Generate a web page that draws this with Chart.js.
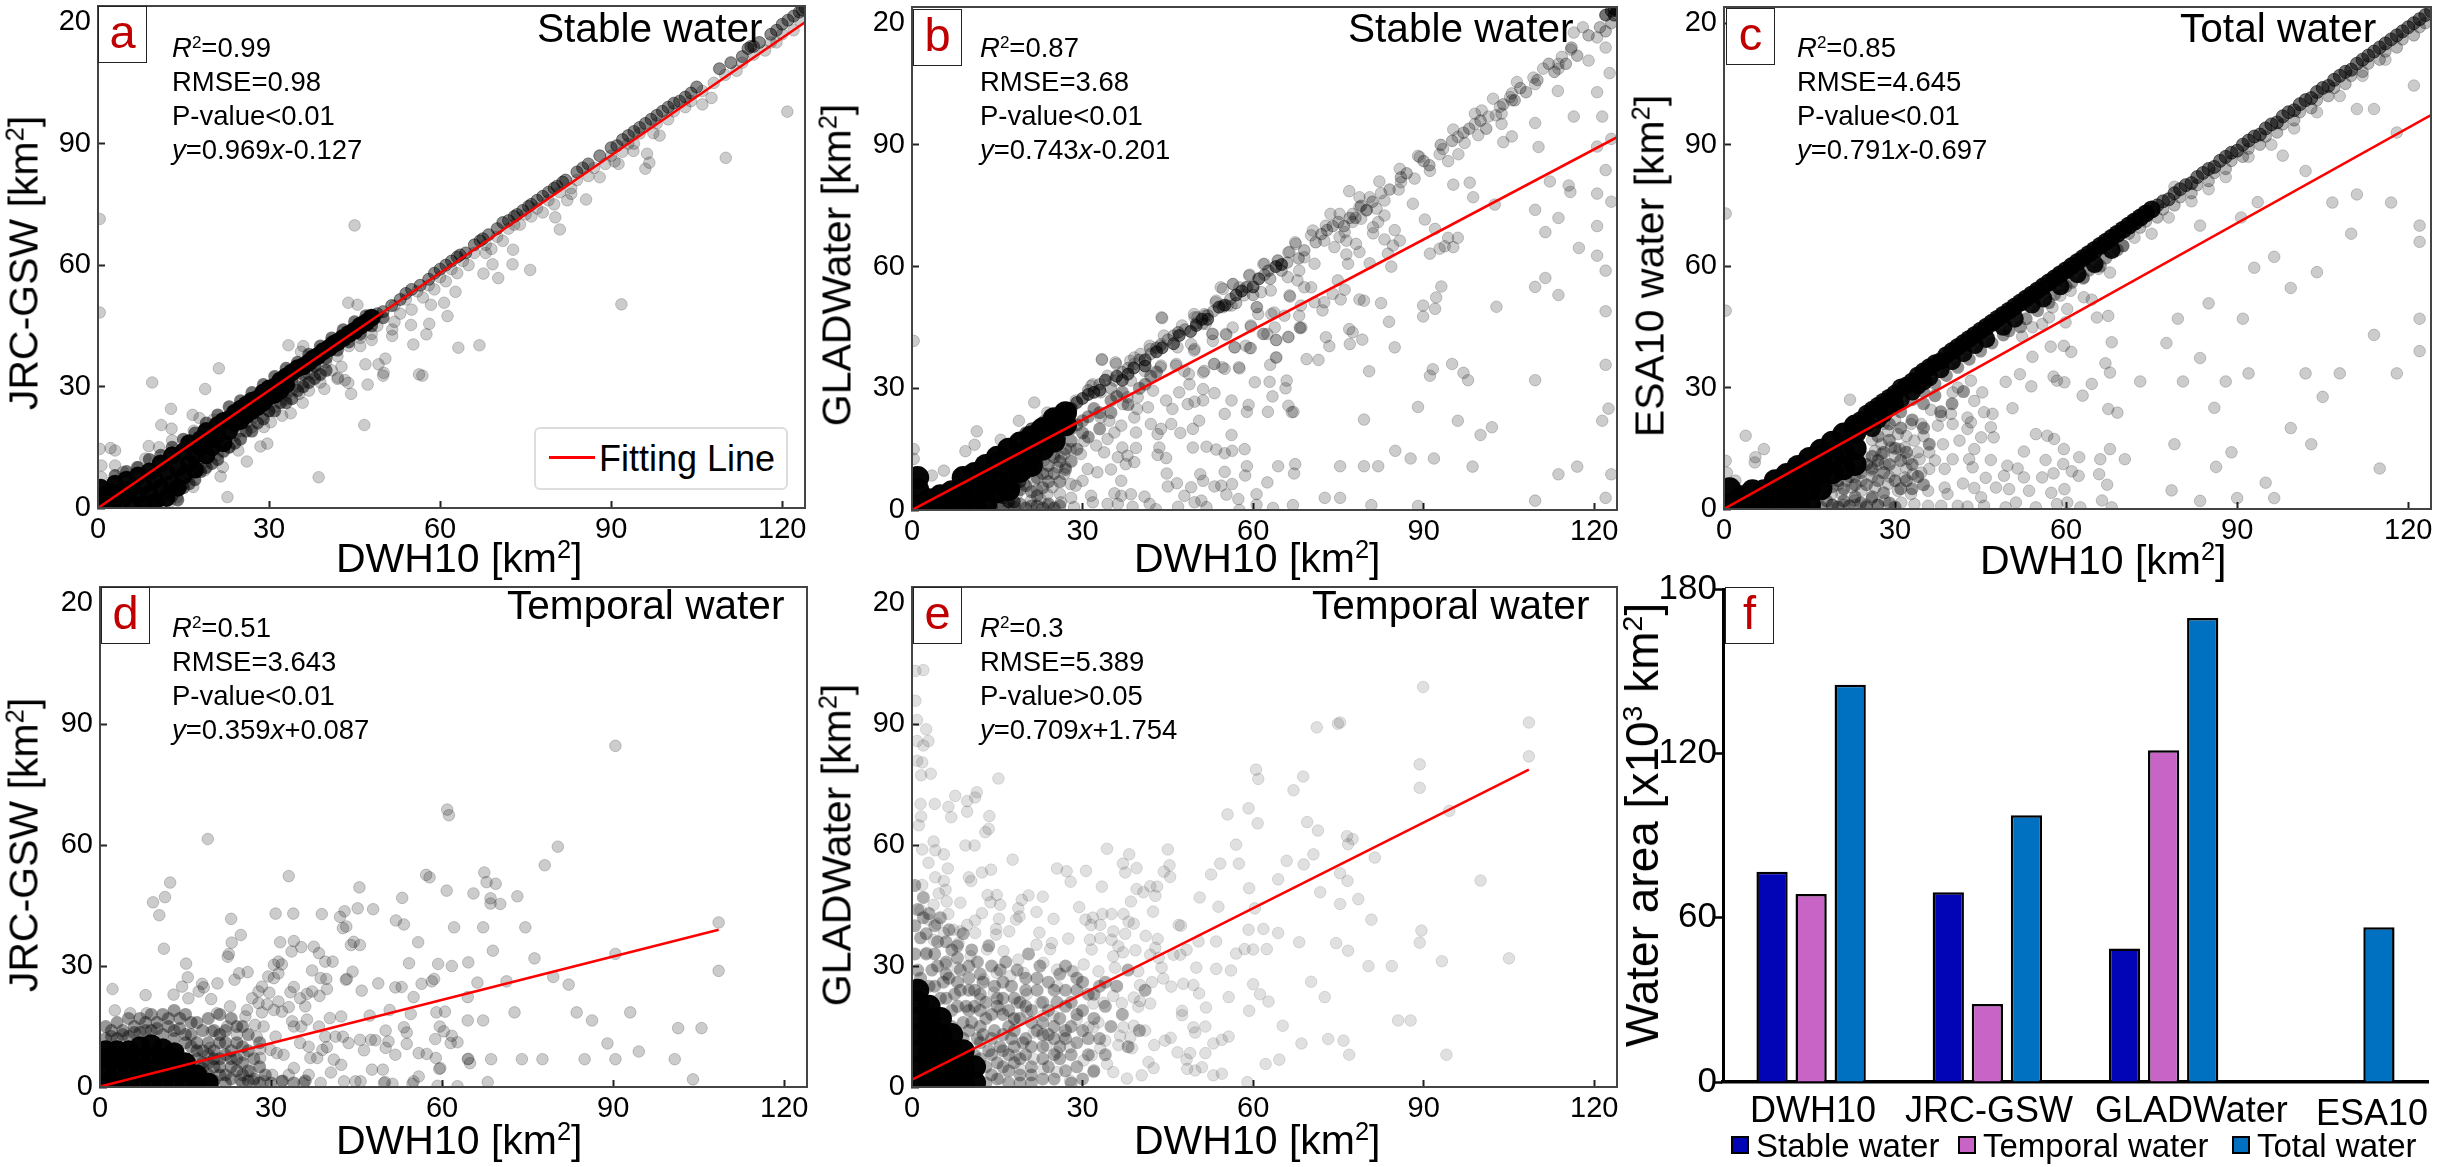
<!DOCTYPE html>
<html>
<head>
<meta charset="utf-8">
<title>Water area comparison</title>
<script src="https://cdn.jsdelivr.net/npm/chart.js@4"></script>
<style>
html, body { margin: 0; padding: 0; background: #fff; }
#page { position: relative; width: 2441px; height: 1167px; overflow: hidden; font-family: "Liberation Sans", Arial, sans-serif; color: #000; }
.plot { position: absolute; }
.txt { position: absolute; white-space: nowrap; transform: translateY(-50%); line-height: 1; z-index: 5; }
.rot { position: absolute; white-space: nowrap; transform: translate(-50%, -50%) rotate(-90deg); line-height: 1; z-index: 5; }
.up { font-size: .62em; position: relative; top: -.55em; line-height: 0; }
.letter { position: absolute; background: #fff; border: 1.5px solid #222; box-sizing: border-box; color: #c00000; font-size: 47px; text-align: center; line-height: 50px; z-index: 6; }
.swatch { position: absolute; width: 18px; height: 18px; border: 2px solid #000; box-sizing: border-box; z-index: 5; }
#fitLegend { position: absolute; left: 534px; top: 427px; width: 254px; height: 63px; box-sizing: border-box; border: 2px solid #ddd; border-radius: 6px; background: #fff; z-index: 5; }
#fitLegend i { position: absolute; left: 13px; top: 27px; width: 46px; height: 2.5px; background: #ff0000; }
#fitLegend span { position: absolute; left: 63px; top: 12px; font-size: 36px; line-height: 1; }
</style>
</head>
<body>
<div id="page"></div>
<script>
// ===== tick labels and bar values =====
const scatterTicks = [0, 30, 60, 90, 120];
const barTicks = [0, 60, 120, 180];
const categories = ['DWH10', 'JRC-GSW', 'GLADWater', 'ESA10'];
const stableWater = [76.8, 69.3, 48.7, null];
const temporalWater = [68.6, 28.5, 121.1, null];
const totalWater = [145, 97.4, 169.4, 56.5];

// ===== fitted lines, end points =====
const fitA = [[0, 0], [124, 120]];
const fitB = [[0, 0], [124, 91.9]];
const fitC = [[0, 0], [124, 97.3]];
const fitD = [[0, 0.1], [108.5, 39]];
const fitE = [[0, 1.8], [108.5, 78.7]];

// ===== panel a =====
const aCore = [[.5,1],[1,3],[.5,5],[2,1],[2,4],[3,2],[3,6],[4,1],[4,4],[5,3],[5,7],[6,1],[6,5],[7,3],[7,8],[8,1],[8,5.5],[9,3.5],[9,9],[10,1.5],[10,7],[11,5],[11,11],[12,2.5],[12,9],[13,6],[13,13],[14,10],[14,5],[15,14],[15,8],[16,11],[16,16],[17,13],[17,9.5],[18,17],[18,15],[19,13],[19,19],[20,17],[20,15],[21,20.5],[21,18],[22,16],[22,21.5],[23,22],[23,19],[24,23.5],[24,21],[25,24.5],[25,21.5],[26,25.5],[26,23],[27,26.5],[27,24],[28,27],[28,25],[29,28.5],[29,26],[30,29.5],[30,27.5],[31,30],[31,28],[32,31.5],[32,29],[33,32.5],[33,30.5],[34,33.5],[35,34.5],[36,35],[37,36],[37.8,37],[38.5,37.5],[39.5,38.7],[40.5,39.5],[41.3,40.5],[42,41],[43,42],[44,43],[45,43.8],[46,45],[47,45.8],[48,47]];
const aHalo = [[8,.5],[10,1],[11,2],[12,4],[13,3],[14,2],[15,5],[16,6],[17,7],[18,9],[19,10],[20,11],[21,12],[22,14],[23,15],[24,16],[25,17],[26,19],[27,19],[28,21],[29,22],[30,24],[31,24],[32,26],[33,26],[34,27],[35,29],[36,30],[37,31],[38,32],[39,33],[40,34],[3,8],[5,9],[7,10],[9,12],[11,13],[13,15],[15,17],[17,18.5],[19,21],[21,23],[23,25],[25,26.5],[27,28.5],[29,30.5],[31,32.5],[33,34.5],[35,36],[37,38],[39,40],[41,42],[43,44],[45,46],[47,47.5],[34,31.5],[36,33],[38,35],[40,37],[42,39],[44,41],[46,43],[48,45],[50,47]];
const aBand = [[49,48],[50,48.5],[51.5,50],[53,51.5],[54,53],[55,54],[56.5,55],[58,56.5],[59,58],[60,59],[61,60],[62,61],[63,62],[63.5,62.5],[64.5,63],[66,65],[67,66],[67.5,66.5],[68.5,67.5],[70,69],[71,70.5],[72,71],[73,72],[73.5,72.5],[74.5,73.5],[75.5,74.5],[76,75],[77,76],[78,77],[79,78],[80,79],[80.5,79.5],[81.5,80.5],[82,81],[84,83],[85,84],[86,85],[88,87],[90,89],[91,89.5],[92,91],[93,92],[94,93],[95,94],[96,95],[97,96],[98,97],[99,98],[100,99],[101,100],[102,100.5],[103,101.5],[104,102.5],[105,104],[109,108.5],[111,110],[113,111.5],[114,113.5],[114.5,114],[115,114],[116,115],[118,117],[119,118],[120,119.5],[121,120.5],[122,121.5],[123,122.5],[123.5,123],[124,123.5]];
const aSparse = [[.3,71.4],[.3,48.3],[45,69.8],[43.9,50.7],[45.5,50.2],[33.4,40.2],[36,40],[35.6,38.6],[21.2,34.5],[9.5,31],[55.3,40.4],[57.6,42.9],[63.2,39.6],[66.9,40.2],[58.1,45.5],[54.9,45.2],[61.3,47.4],[60.7,50.7],[58.4,50.2],[62.7,53.4],[67.6,57.9],[70.2,56.8],[72.7,60.2],[72.8,63.8],[69.2,60.2],[56.3,33],[51.6,42.5],[50.4,36.9],[49.2,35.5],[50.1,33.4],[46.9,35.5],[42.7,34.9],[42.1,32.2],[43.3,31.6],[51.6,44.1],[48,41.5],[46,42],[44,40],[42,37.5],[40,36],[38,35],[37,33],[41,34],[120.9,97.9],[110.1,86.5],[91.8,50.3],[75.8,58.8],[81,68.8],[80.2,71.8],[85.6,76.2],[82.3,76],[83,77.6],[88,81.7],[96,83.8],[96.7,85.3],[96.3,87.5],[93.9,88.2],[91.3,85],[90.6,85.6],[98.5,92],[97.4,92.6],[106,99.7],[107.6,101.3],[38.7,7.6],[22.7,2.7],[46.7,20.5],[16.7,5.2],[13.9,2.7],[12.6,1.5],[13.5,4.8],[21.5,7.8],[18.7,9.3],[17.8,9.3],[21.9,10.1],[26.1,11.5],[24.6,14.2],[28.5,15.2],[29.7,15.9],[27,20],[29.1,20],[30.3,21.2],[32.3,22.8],[33.8,23.4],[35.9,26],[35.3,28.2],[32.9,26.8],[44.4,28.2],[47.3,30.5],[39.7,29.4],[43.9,30.9],[56.9,32.7],[50,32.7],[42,31.9],[12.8,24.5],[18.8,29.4],[11.1,20.5],[12.9,19.6],[13,16.7],[16.6,23],[17.8,22.2],[16.8,19.1],[20.2,21.8],[2.2,14.8],[3,14.2],[.3,14.6],[8.9,15.3],[10.7,15],[3,10.5],[.6,10.5],[4.4,8.9],[8.3,12.2],[6.8,10.1],[.6,7.6],[24,18],[25,19],[26,21],[27,22],[23,15],[21,13],[19,11.5],[18,12],[16,8],[15,6],[29,23],[30,24],[31,25],[33,28],[34,29],[36,31],[38,33],[39,31],[35,30],[37,29],[46,40],[48,43],[49,45],[52,46],[53,48],[55,49],[57,52],[59,54],[61,56],[63,58],[65,60],[68,63],[69,64],[71,66],[74,70],[76,72],[78,73],[80,75],[83,79],[86,82],[89,85],[92,88],[94,90],[100,96],[103,99],[112,108],[117,113],[119,115],[122,118],[52,50],[54,51.5],[56,53.5],[58,55],[60,57],[62,59],[64,61],[66,63],[68,65],[70,67],[72,69],[73,70],[75,72.5],[77,74],[79,76],[81,78],[84,81],[87,84],[90,87],[93,90],[95,92.5],[98,95],[101,98],[104,100.5],[106,103],[108,105],[110,107],[113,110],[115,112],[118,115],[120,117],[123,120.5]];

// ===== panel b =====
const bCore = [[1,1],[1,5],[1,8],[3,1],[3,2.5],[5,1],[5,3.5],[7,1],[7,4.5],[9,1.5],[9,5],[9,8],[11,1],[11,4.5],[11,9],[13,1.5],[13,5],[13,8.5],[13,11],[15,4.5],[15,8],[15,11.5],[15,13],[17,5],[17,9],[17,12.5],[17,15],[19,9.5],[19,12],[19,13.5],[19,16.5],[21,11],[21,14],[21,16],[21,18],[23,15],[23,18],[23,20],[25,17],[25,20],[25,22.5],[27,21],[27,24]];
const bHalo = [[14,.5],[15,1.5],[16,1],[17,.5],[18,.8],[19,1.5],[20,.5],[21,1],[22,1],[23,.5],[24,1.5],[25,.5],[26,1],[16,5],[17,6.5],[18,8],[19,5],[20,6],[21,4.5],[22,3.5],[23,5.5],[24,7],[25,9],[26,7],[27,10],[28,12],[23,9],[24,11],[22,8],[26,12],[25,13],[27,15],[28,17],[29,15],[28,20],[29,21],[30,19],[30,22],[31,23],[32,25],[33,24],[31,18],[33,20],[35,24],[35,27],[36,28],[37,29],[38,26],[40,30],[41,31],[42,33],[43,34]];
const bBand = [[20,19],[21,20],[22,20.5],[22,18],[23,21.5],[23,19],[24,22],[24,19.5],[25,23],[25,20],[26,24],[26,21],[27,24.5],[27,22],[20,13],[21,14],[22,15],[23,16],[24,15],[25,17],[26,18],[16,3],[17,5],[18,6],[19,7],[20,9],[21,10],[22,12],[17,2],[18,2],[28,25],[29,26.5],[30,27.5],[31,28.5],[32,29],[33,29.5],[34,32],[36,33],[37,32],[38,33.5],[39,35],[41,35.5],[41,37],[43,39],[44,40],[46,41],[47,43],[49,44],[50,45.5],[51,47],[52,47],[54,50],[55,50.5],[57,53],[58,54],[60,55],[61,57],[64,60],[65,60.5],[122,122],[123,123],[123.5,123.5],[124,123],[123.5,122]];
const bMid = [[31,29.5],[33,31],[35,30],[37,34],[38,35],[40,37],[42,38.5],[43,40],[45,42],[46,43],[48,44.5],[50,46],[52,48],[53,49],[56,52],[57,51],[59,55],[60,53],[62,58],[63,57],[65,59],[66,61],[68,62],[69,64],[71,66],[72,68],[73,69],[74,70],[75,71],[76,70],[77,72],[78,72],[79,75],[80,74],[81,76],[84,79],[86,82],[87,83],[90,86],[91,85],[93,90],[95,91],[97,93],[98,94],[100,96],[101,94],[104,100],[106,101],[107,104],[108,103],[110,106],[112,110],[113,108],[115,110],[116,114],[117,112],[119,117],[121,119],[122,118],[123,120]];
const bSparse = [[67.4,66],[66.2,63.5],[64.4,61.5],[62.6,59],[61.8,60.6],[59.4,58],[57.6,54.9],[54.7,54.5],[56.5,55.7],[53.5,51.6],[54.7,50],[56.2,50.4],[44,47.3],[51.5,47.9],[49.7,47.5],[46.8,43.8],[43.8,40.9],[41.8,40.5],[39.1,37.6],[35.9,36],[33.4,37],[31.8,31],[33.2,29],[28.8,27],[21.5,26.5],[23.8,24],[18.8,22],[25.6,22.8],[23.2,22],[11.4,19.4],[11,16.1],[9.4,14.5],[15.6,17.3],[.3,41.7],[.3,15],[.3,12.6],[5.6,9.7],[3.5,8.5],[66.5,52.6],[63.2,48.3],[60.6,50],[60.9,48.3],[59.6,45.2],[63.8,45],[66.2,42.7],[61.9,43.4],[64.1,41.9],[68.2,45],[64.1,37.6],[57.6,34.9],[59.6,39.9],[56.8,40.1],[55.3,43.2],[52.9,43.4],[51.2,33.9],[53.2,36],[55,34.8],[60.3,31.5],[62.9,31.6],[65.9,31.9],[65.7,30],[63.4,28],[59.2,25.9],[62.6,24.2],[66.2,25.7],[66.8,24.1],[56.2,27],[53.2,28.8],[51.2,29.8],[48.8,31],[51.2,27],[48.5,26.1],[49.7,26.7],[55,23.7],[50.5,22],[49.4,20],[47,29],[45.8,24.9],[44.7,27],[45.6,21.2],[47.2,19],[43.2,18.7],[49.4,15.4],[51.8,15.6],[53.5,14.9],[55,14],[56.3,14.6],[58.5,15],[43.5,15.4],[43.2,13.6],[44.7,12.8],[44.8,9],[45,5.8],[46.6,6.6],[49.1,5.6],[47.9,3.5],[51.2,7.2],[53.2,5.8],[54.4,6],[55,9.4],[56.3,6.4],[58.6,8.5],[55.3,3.8],[57.4,2.7],[60.6,3.9],[62.5,6.8],[60.6,1.3],[63.5,.5],[57.6,0],[67.4,11.3],[67.2,9],[46.8,.8],[49.7,1.9],[50.9,2.3],[51.8,.7],[35.6,4.1],[36.8,7.2],[38.5,3.9],[36.8,3.5],[40.9,3.3],[41.8,1.5],[34.4,1.5],[36.2,1.5],[38.8,.8],[42.9,.2],[31.5,3.5],[31.8,1.9],[28.5,.7],[39.1,11.8],[37.6,11.3],[35,10],[33.8,14.2],[36.2,13],[37,15.4],[39.4,15.3],[37.9,13.4],[30.9,10.1],[32.6,9.3],[30,7.2],[28.8,6],[26.8,8.9],[27,10.5],[26.2,13],[27.9,15],[29.7,13.8],[30.3,17],[32.4,15.9],[34.4,17.5],[36.8,20.8],[35.6,19.1],[34.7,22],[33.2,22.8],[39.1,22.8],[39.6,24.9],[41.5,25.3],[42,21.2],[43.8,20],[39.4,19.1],[37.1,26.1],[42.4,29.4],[39.7,27.8],[37.9,27.8],[35.6,31.9],[38.5,31.9],[34.4,33.1],[31.5,30.6],[40.9,34.3],[43.8,35.6],[46.5,36],[47.9,34.3],[39.1,36],[49.7,39.7],[51.1,45.9],[49.1,40.9],[52.9,41.7],[23.8,8.9],[25.6,10.5],[23.2,12.2],[26.8,13.8],[25,13.8],[27.9,6.4],[24.7,5.6],[23.8,3.9],[26.2,1.9],[22.6,2.7],[20.9,2.3],[18.5,3.9],[17.4,4.8],[16.8,2.3],[19.7,6.4],[21.5,7.2],[22.1,10.5],[24,1],[22,5],[26,4],[28,3],[114.3,111.7],[113.7,110],[111,108.8],[109.3,106.6],[106.4,105.5],[105.5,102.7],[105.2,101.8],[102.2,101.4],[103.4,99.4],[103.7,97.7],[103.7,95.2],[100.2,98.5],[99,97.7],[99,95.2],[101.4,97],[99.6,92.4],[104,90.7],[105.5,92.1],[95.2,93.8],[96,92],[97.2,90.5],[93.4,89],[92.8,87.7],[94.3,86],[96.1,87.7],[89,87.3],[89.3,87],[91.1,83.6],[85.8,84.1],[88.4,81.7],[86,80.8],[85.6,79],[95.2,80.2],[98.1,80.7],[98.7,77.1],[88.1,75.5],[90.2,71.6],[92,69.3],[84.9,69],[85.8,66.4],[84.6,65.2],[83.1,66.7],[82.2,81],[82.5,78.1],[83.1,76.3],[76.9,78.6],[78.7,77.1],[80.5,77.1],[78.7,74.7],[79.9,73.8],[81.7,74.3],[83.1,72.6],[77.5,73],[77.5,71],[79,71.8],[82,71],[81.1,69.7],[81.1,68.2],[73.6,73],[75.2,73],[72.8,70.1],[70.5,68.9],[70.2,67.7],[72.5,66.4],[74.3,64.8],[76.1,68.5],[75.2,67.3],[76.4,66.4],[78.1,65.6],[78.7,63.6],[76.4,63],[76.7,60.7],[80.5,60.8],[83.7,63.2],[84.3,60],[91.1,63.2],[92.8,64.4],[93.7,65],[95.2,64.8],[94.3,67.1],[96,67.1],[102.5,75.3],[112.2,81],[111.4,68.5],[111.4,57.2],[102.8,50.1],[110.2,89.5],[113.6,103.3],[115.5,80],[115.8,78.4],[93.1,55.1],[92.2,52.4],[89.9,50.4],[92,49.6],[89.9,47.7],[82.5,51],[83.9,46.4],[78.7,51.9],[79.5,51.6],[74.9,56.6],[76.1,54.3],[74,53.3],[75.4,51.9],[72.5,51.2],[70.8,51.2],[72.2,49.2],[68.4,50.4],[68.1,47.9],[68.3,44.8],[68.5,45],[76.9,44.6],[77.5,43.8],[79.2,42],[77,40.9],[72.8,42.6],[73.4,40.4],[84.9,40.1],[95,36],[91.6,34.7],[91.1,33.1],[80.4,34.2],[71.5,37],[69.4,37.2],[64,37.6],[66.2,42.6],[64,41.9],[62.5,43.4],[61.7,43.4],[65.5,47.9],[63.7,48.7],[60.7,50],[59.6,45.5],[57.5,35.2],[59.4,39.9],[56.4,45],[54.3,54.9],[56.4,55.7],[58.7,54.9],[59.3,57.8],[62,60.7],[62.8,59],[64.3,61.5],[66.4,63.6],[67.5,65.6],[69,62.3],[70.8,60.7],[68.1,59],[66.1,57.4],[67.8,56.6],[69,54.9],[70.2,54.9],[66.4,52.9],[63.1,54.1],[61.4,53.7],[58.4,52.9],[54.6,50.4],[53.4,51.2],[55.5,50.4],[51.4,48.3],[49.6,48.3],[50.2,47.5],[51.7,45.9],[46.9,43.8],[43.7,40.5],[47.5,45.5],[43.9,47.5],[44.3,43],[49.6,39.3],[46.7,40.1],[52.8,43.4],[55.2,43.4],[56.7,40.1],[58.7,40.5],[53.1,36],[51.4,34.3],[54.6,35.2],[48.7,33.5],[43.7,35.2],[46.4,35.6],[33.4,37.2],[35.8,36.4],[38.4,36.8],[40.2,38.5],[41.9,39.7],[118,119],[116.4,117.7],[120.5,116.5],[122,114],[122.7,107.7],[120.5,103],[116.4,97],[121.4,97],[120.5,89.6],[123,91.5],[122,83.8],[123,76],[120.5,78],[109.6,74],[113.7,72],[109.6,55],[109.6,32],[122,59],[122,49],[122.5,25],[121.4,22],[117,10.7],[109.6,2.3],[122,3],[123,8.8],[102,20.4],[89,25.4],[89,1],[98.6,10.7],[96,22],[97,33.8],[91.8,12.7],[87.7,12.7],[82,10.8],[79.5,22.3],[75.3,10.8],[79.5,10.8],[67.1,24.2],[64.4,10.8],[58.9,10.8],[58.9,24.2],[56.2,18.5],[63,35.8],[50.7,8.8],[72.6,3],[75.3,3],[67,1.2],[80.8,1.2],[85,14.6],[97.8,32],[100,18.5],[113.7,8.8],[120.5,70],[122,35.8],[113.7,53],[117.3,64.6],[120.5,62.7],[113.7,108.8],[119,110.8],[109.6,105],[105.5,101],[109.6,95.4],[102.7,97.3],[115.9,113.5]];

// ===== panel c =====
const cCore = [[1,1],[1,5],[3,1],[3,3],[5,1],[5,4.5],[7,1],[7,4.5],[9,1],[9,5],[9,7],[11,1],[11,5],[11,8.5],[13,1],[13,5],[13,9],[13,10.5],[15,1],[15,5],[15,9],[15,12.5],[17,5],[17,9],[17,13],[17,14.5],[19,9],[19,13],[19,16.5],[21,10],[21,14],[21,18.5],[23,11],[23,15],[23,19],[23,20.5]];
const cHalo = [[17,.5],[18,2],[19,1],[20,.5],[21,2],[22,.8],[23,3],[24,1.5],[25,.5],[26,3],[27,1],[28,4],[29,1.5],[30,.5],[18,6],[19,5.5],[20,7],[21,5],[22,8],[23,6],[24,9],[25,6],[26,10],[27,7],[28,9],[25,11],[26,13],[27,12],[28,14],[29,11],[30,7],[31,5],[32,7],[33,5],[29,17],[30,15],[31,12],[32,14],[33,11],[34,8],[35,6],[27,18],[29,21],[31,20],[33,22],[35,26],[37,28],[35,20],[36,16],[38,24],[40,26],[42,29],[31,24],[33,27],[35,29],[37,31],[39,33],[41,35],[43,37],[45,39],[47,41],[49,43],[50,44],[52,45],[53,47],[55,49],[57,51],[58,53],[60,55],[61,56],[63,57],[64,59],[66,60],[67,62],[69,64],[70,65]];
const cBand = [[24,22],[25,23.5],[25,21],[26,24.5],[26,20],[27,25.5],[27,22],[28,26.5],[28,23.5],[29,27.5],[29,25],[30,28.5],[30,26],[31,30],[31,27],[32,30.5],[33,31.5],[33,29],[34,33],[34,30.5],[35,34],[35,31.5],[36,35],[36,32.5],[37,36],[38,36.5],[38,34.5],[39,38],[40,39],[40,36.5],[41,40],[42,41],[42,38.5],[43,42],[44,43],[44,40.5],[45,44],[46,45],[46,42],[47,46],[48,47],[49,48],[49,45],[50,49],[51,50],[51,47],[52,51],[53,52],[54,53],[54,50.5],[55,54],[56,55],[56,52],[57,56],[58,57],[59,58],[59,55],[60,59],[61,60],[62,61],[62,58],[63,62],[64,63],[65,64],[65,60.5],[66,65],[67,66],[68,67],[68,64],[69,68],[70,69],[71,70],[72,71],[73,72],[74,73],[75,74]];
const cBandHigh = [[76,75],[77,76],[78,76.5],[79,78],[80,79],[81,80],[82,80.5],[83,82],[84,83],[85,84],[86,84.5],[87,86],[88,87],[89,88],[90,88.5],[91,90],[92,91],[93,92],[94,92.5],[95,94],[96,95],[97,95.5],[98,97],[99,98],[100,98.5],[101,100],[102,101],[103,101.5],[104,103],[105,104],[106,104.5],[107,106],[108,107],[109,108],[110,108.5],[111,110],[112,111],[113,112],[114,113],[115,114],[116,115],[117,116],[118,117],[119,118],[120,119],[121,120],[122,121],[123,122],[124,123]];
const cLow = [[71,68],[73,69.5],[74,71],[76,72],[77,74],[79,75],[80,77],[82,78],[83,80],[85,81],[86,83],[88,84],[89,86],[91,87],[92,89],[94,90],[95,92],[97,93],[98,95],[100,96],[101,98],[103,99],[104,101],[106,102],[107,104],[109,105],[110,107],[112,108],[113,110],[115,111],[116,113],[118,114],[119,116],[121,117],[122,119],[123,120]];
const cSparse = [[3.8,18.1],[7,14.8],[5.5,12.8],[5.4,11.5],[.3,73],[.3,49],[.3,11.9],[.5,9],[2,7],[22.1,27],[67.7,58.4],[65.7,59.3],[63.1,57.2],[60.8,53.9],[59,52.7],[57.6,49.8],[60.2,49.4],[59.9,46.1],[57,47.3],[55.8,45.7],[54.1,44.9],[63.1,52.3],[64.5,51.7],[65.4,47.3],[67.4,47.7],[68,41.2],[57.3,40.1],[59.6,40.3],[60.9,38.8],[54.1,37.6],[52.3,42.6],[51.9,33.3],[49.4,31.4],[53.9,30.3],[57.8,32.7],[58.4,31.7],[59.7,31.3],[64.5,30.9],[62.9,28],[66.9,36],[67.7,33.7],[67.4,24.7],[50.6,24.9],[47.1,23.5],[45.3,28.8],[43.9,26.7],[45.6,23.9],[43.3,31.7],[41,30],[40.1,28.8],[36.3,24.5],[38.1,23],[39.8,23.5],[42.7,22.6],[43.3,21.4],[46.8,20.2],[45.1,17.7],[47.3,17.7],[42.7,19.8],[40.1,21],[37.5,20.6],[41.3,16.9],[38.4,16],[36,14],[43.9,14.8],[54.7,18.5],[56.7,18.1],[57.9,17.3],[59.6,14.8],[52.6,14.2],[56.4,12.1],[59.5,11.1],[61,9.3],[57.8,8.8],[62.2,8.2],[55.8,7.8],[62.3,12.8],[66,12.3],[67.7,14.8],[65.8,8.6],[67.2,6],[59.7,4.9],[57.4,4],[53.5,4.5],[50,4.9],[52.6,7.8],[49.7,10.7],[51.5,10],[46.8,12.1],[49.1,8.2],[45.9,7.7],[47.7,5.3],[43.9,5.2],[41.9,6.3],[45.1,2.9],[40.1,12.3],[43,12.3],[43.6,10.3],[38.7,9.9],[36,9.9],[32.3,12.3],[34.3,12.3],[30.8,14.8],[31.7,15.2],[33.4,16.9],[34.6,21],[32.8,21],[35.8,4.5],[38.7,5.3],[34.6,9],[33.1,8.6],[39.2,3.7],[41,.8],[38.1,.8],[35.8,.8],[51.2,1.6],[49.4,.4],[66.3,2.1],[58.4,1.2],[60.2,1.6],[54.7,.4],[62.5,.4],[42.7,.6],[45.6,.8],[68,.4],[24.7,12.8],[26.5,14.4],[27.6,16],[28.8,19.3],[30.5,18.5],[25.9,9.5],[28.2,11.1],[30,9.5],[31.7,7.8],[22.4,5.3],[24.1,4.5],[26.5,5.3],[28.8,6.2],[30.5,4.5],[32.8,3.7],[20.6,3.7],[18.9,3.7],[22.9,2.1],[25.9,2.5],[28.2,2.1],[31.1,1.6],[33.4,1.2],[24.1,7],[21.5,7],[27.6,13.6],[29.3,15.2],[19,1],[21,1],[23,1],[25,1],[27,1],[20,6],[23,8],[26,8],[29,8],[27,11],[30,13],[32,10],[26,17],[28,21],[30,22],[32,18],[34,14],[35,18],[37,12],[122,70],[122,66],[118,33.5],[122,47],[122,39],[114,43],[115,10],[103,16],[99.4,20],[92,33.5],[86,25],[83.5,37.3],[90,2.7],[95,6.5],[96.5,2.7],[105,27.7],[108,33.5],[102,33.5],[91,47],[104,58.5],[99.4,54.6],[111,77.7],[110,68],[117,75.7],[106.7,75.7],[93,59.6],[85,50.8],[79.6,47],[77.6,41],[73,31.5],[69,23.8],[79,16],[78.5,4.6],[83.5,2],[70.3,12.3],[86.3,10.4],[89,14],[80.5,31.5],[88,31.5],[96.5,62.3],[93.6,75.8],[90.7,72],[79,79.6],[83.5,70],[102,83.5],[98,87.3],[118,93],[114,98.8],[121,104.6],[111,98.8],[70,65],[72,67],[75,68],[78,72],[82,76],[85,79],[88,82],[92,87],[96,90],[100,94],[104,98],[108,102],[112,107],[116,111]];

// ===== panel d =====
const dCore = [[1,1],[1,4],[1,7],[1,9],[3,1],[3,4],[3,7],[3,9],[5,1],[5,4],[5,7],[5,9],[7,1],[7,4],[7,7],[7,10],[9,1],[9,4],[9,7],[9,10.5],[11,1],[11,4],[11,7],[11,9.5],[13,1],[13,4],[13,7],[13,8.5],[15,1],[15,4],[15,6],[17,1],[19,1],[17,3]];
const dHalo = [[17,7],[18,9],[17,11],[15,11],[13,12],[11,13],[9,14],[7,13.5],[5,12.5],[3,12],[1,12],[16,13],[14,14.5],[12,15],[10,16],[8,16],[6,15],[4,14],[2,14],[19,6],[20,5],[21,3],[22,1],[23,2],[21,7],[23,5],[25,3],[19,11],[20,9],[21,11],[23,9],[24,7],[26,1.5],[28,1],[24,11],[22,14],[18,14],[20,14],[16,16],[12,17],[14,17],[17,2],[18,4.5],[19,3],[20,1.5],[20,7],[21,5],[22,3],[22,8],[23,7],[24,4],[25,1],[25,6],[26,4],[27,2],[27,7],[28,5],[28,11],[26,9],[26,13],[25,10],[24,15],[21,13],[22,11],[19,8],[18,6],[17,9],[16,10],[15,13],[13,14],[10,14.5],[8,14],[6,13.5],[4,13],[2,12.5],[1,15],[3,16],[5,17],[7,17],[9,18],[11,18],[13,19],[15,18],[17,16],[19,17],[21,18],[23,17],[25,15],[29,3],[30,1],[32,1.5],[34,1],[36,1.5]];
const dSparse = [[18.9,61.5],[12.3,50.7],[11.4,47.1],[9.3,45.8],[10.4,42.6],[11.2,34.3],[15.1,30.6],[15.4,27.2],[14.4,24.9],[12.9,22.9],[8,22.8],[2.2,24.3],[2.6,19],[5.3,18.3],[8.2,18.3],[23,41.7],[24.7,37.7],[23.1,35.8],[22.4,32.3],[22.6,33],[24.4,28.2],[25.9,28.5],[23.6,26.6],[20.6,25.7],[17.9,25.6],[18.2,24.7],[19.5,21.8],[17.3,23.7],[15.5,22],[33.1,52.3],[30.8,43],[33.9,43],[38.9,42.9],[31.6,35.9],[34,36.2],[33.6,33.6],[35.3,34.7],[37.5,34.8],[38.4,33.2],[39.5,31.1],[40.8,31.1],[31.3,31.1],[30.5,30.3],[31.9,30.4],[29.5,27.4],[30.5,27],[31.3,28.2],[28.4,24.9],[27.8,23.7],[29.7,23.4],[26.7,22],[37.2,28.9],[38.7,27],[39.7,26.8],[39.8,24.3],[38.5,22.6],[37.2,23.7],[36.3,23.1],[35.1,22],[36,20],[34,24.8],[33.4,23.5],[31.3,21.2],[33.1,19.8],[29.3,20.5],[27.8,20.8],[28.4,18.5],[30.5,19.1],[31.9,18.7],[36.3,16.7],[33.7,16.3],[35.3,15],[34,15],[38.4,15],[40.3,17.1],[42.3,17.5],[47.3,17.7],[50.8,19.1],[54.5,18.1],[60.5,18.7],[45.9,23.9],[48.8,25.7],[51.8,24.7],[52.9,24.8],[56.4,25.6],[58.6,26.8],[54.2,30.7],[59.3,30.5],[64.6,30.9],[66.2,25.9],[43.1,26.6],[43.3,26.8],[44.3,28.6],[44,35.2],[45.6,35.2],[44.5,36],[42.6,39.4],[43.2,39.8],[42.1,42.2],[42.9,43.6],[45.2,44.3],[47.9,44.1],[45.5,49.5],[53,46.9],[51.9,41.3],[53.3,40.3],[55.8,35.9],[62.1,39.6],[57.2,52.6],[57.8,52],[60.8,48.7],[65.5,48],[67.4,53.2],[60.9,68.8],[61.2,67.4],[68.5,46.8],[68.5,45.5],[53.3,14.8],[53.8,13.5],[59.6,15],[60.3,13.8],[58.8,11.9],[61.5,10.9],[62.7,11.1],[53.8,10.7],[50.1,14],[50.6,11.3],[50.1,9.7],[51.8,8],[47.5,11.7],[48.3,11.6],[45.6,11.7],[46.3,9.1],[43.6,10.9],[42.6,12.5],[41.3,12.5],[39.5,12.5],[39.8,9.9],[39,9.2],[41,6.8],[42.3,5.5],[38.1,7.2],[36.9,7.2],[35.1,10.9],[36.6,10],[55.9,8.4],[57.3,8.2],[58.9,7.2],[64.6,7],[64.9,5.9],[59.5,4.5],[59.7,4.7],[55.9,2.6],[55,1.4],[54.8,.8],[47.7,4.3],[49.6,4.3],[49.8,1],[50,1.2],[51.3,.8],[44.8,1.4],[45.7,1.4],[42.8,1.4],[40.5,3.6],[59.2,.3],[62.7,.2],[68,1.2],[33.1,3],[34,4.7],[36.6,3],[38.7,1],[35.7,1],[31.9,1.4],[30.2,3],[28.1,7.2],[31,8.4],[32.2,8],[29.9,9.2],[28.1,9.4],[30.8,12.5],[27.5,12.5],[28.7,15],[27.2,15.4],[25.5,17.5],[25.8,19.1],[22.8,20],[20.5,18.3],[24,13],[22.3,15],[19.6,13.8],[19.3,9.7],[25.2,8],[26.4,3.9],[24.6,1.8],[28.7,1.4],[26.9,1.4],[90.4,84.6],[108.5,40.8],[108.5,28.8],[80.3,59.6],[78,55],[69.4,50.4],[67.8,50.8],[70.2,45.4],[73.2,47.3],[74.6,39.6],[68.9,33.8],[76.2,31.9],[90.4,33],[82.2,25.4],[79.5,27.3],[71.3,26.2],[64.5,22.3],[67.2,16.5],[72.7,18.5],[68.6,6.9],[74,6.9],[77.6,6.9],[83.6,18.5],[89,10.8],[90.4,6.9],[85,6.9],[94.5,8.8],[100.8,6.9],[104,1.9],[105.5,14.6],[101.4,14.6],[93,18.5],[86.3,16.5],[61.7,12.7],[64.5,16.5],[64.5,6.9],[59,18.5],[58.2,26.2],[55,22.3],[61.7,30],[67.2,39.6]];

// ===== panel e =====
const eCore = [[1,1],[1,5],[1,9],[1,13],[1,17],[1,21],[1,24],[3,1],[3,5],[3,9],[3,13],[3,17],[3,20],[5,1],[5,5],[5,9],[5,13],[5,17],[7,1],[7,5],[7,9],[7,13],[9,1],[9,5],[9,9],[11,1],[11,5]];
const eHalo = [[1,25],[1,29],[.5,33],[1.5,37],[3,21],[3,25],[3.5,29],[2.5,33],[5,18],[5,22],[5.5,26],[4.5,30],[7,15],[7,19],[7.5,23],[6.5,27],[9,12],[9,16],[9.5,20],[8.5,24],[11,4],[11,8],[11.5,12],[10.5,16],[11,20],[13,1],[13,5],[13.5,9],[12.5,13],[13,17],[15,2],[15,6],[15.5,10],[14.5,14],[17,4],[17,8],[17.5,12],[19,1],[19,7],[19.5,11],[21,3],[23,7],[25,12],[21,16],[23,21],[18,22],[16,26],[14,30],[12,28],[10,30],[8,32],[6,36],[4,40],[2,42],[20,24],[25,24],[27,20],[29,24],[27,30],[30,26],[32,23],[34,26],[23,13],[25,8],[27,14],[29,18],[31,12],[16,18],[18,17],[20,20],[15,22],[12,23],[22,27],[.5,40],[1,44],[2,47],[1.5,27],[2.5,38],[.5,50],[3,43],[4,25],[4,33],[4.5,36],[5,42],[6,22],[6,31],[6,28],[6.5,39],[7,34],[8,20],[8,26],[8,35],[8.5,29],[9,38],[10,14],[10,19],[10,24],[10,27],[10.5,34],[11,24],[11.5,31],[12,7],[12,11],[12,15],[12,19],[12.5,26],[13,21],[13.5,35],[14,3],[14,8],[14,12],[14,18],[14.5,25],[15,20],[15.5,29],[16,5],[16,9],[16,13],[16,22],[16.5,31],[17,1],[17,15],[17,19],[17.5,25],[18,6],[18,10],[18,14],[18.5,29],[19,3],[19,17],[19,21],[20,8],[20,12],[20,27],[20.5,33],[21,1],[21,5],[21,10],[21,19],[22,14],[22,24],[22.5,30],[23,2],[23,10],[23,16],[24,5],[24,13],[24,19],[24,26],[25,2],[25,15],[25.5,21],[26,7],[26,10],[26,17],[26,28],[27,4],[27,12],[27,24],[28,1],[28,8],[28,15],[28,21],[29,5],[29,11],[29,27],[30,2],[30,14],[30,19],[31,8],[31,23],[32,4],[32,17],[33,12],[33,25],[34,8],[34,20],[35,15],[36,25],[37,18],[38,29],[38,10],[40,14],[41,24]];
const eSparse = [[2,103.4],[.6,103.2],[.6,95.8],[.9,91],[2.5,88.7],[2.9,85.8],[.9,85.8],[2,84.7],[1.8,80.5],[.9,80.9],[3.3,77.7],[1.6,77.3],[15.2,76.5],[11.4,73.1],[11.1,71.8],[7.6,72.2],[9.7,70.9],[4,70.2],[6.4,69.5],[1.5,70.2],[9.7,68.3],[6.9,66.9],[13.6,67.2],[1.6,67.1],[1.2,64.9],[13.5,64],[12.9,63.2],[9.4,59.9],[11,59.9],[3.8,60.9],[1.8,58.9],[4.1,58.7],[5.6,57.7],[2.9,55.6],[6.3,54.2],[17.7,56.4],[13.9,53.9],[12.3,53.2],[10,52],[10.4,51.1],[4.1,52],[5.6,51.1],[1.8,50.1],[5.9,48.9],[4.7,48],[6.1,46],[3.8,45.2],[1.5,43.9],[8.5,45.7],[6.4,42.9],[2.9,41.5],[4.4,40.5],[13.3,47.6],[14.9,47.6],[13.8,45.8],[15.5,45.2],[12.3,43.1],[11.1,41.3],[9.7,40.2],[7.3,39],[8.5,38.6],[11.1,38.2],[8.2,35.7],[15.3,41.7],[14.8,39.2],[14.8,37.8],[17.1,38.6],[18.3,41.5],[18.9,42.3],[18.7,44.3],[19.3,46.4],[20.5,47.5],[23,47.2],[21.9,43.4],[24.9,41.7],[22.4,38.3],[21.9,35.3],[24.6,35.7],[24.3,34.2],[27.5,36.8],[29.4,44.6],[25.5,54.2],[27.2,53.5],[27.9,50.9],[30.6,53.6],[34.3,59.1],[33.4,49.7],[37.1,55.4],[38.2,57.7],[37.5,53.2],[39.5,54.3],[45,58.9],[45.3,55],[44.3,53.4],[45.4,52.1],[39.5,49.1],[40.7,48.3],[41.9,49.8],[43.1,49.7],[42.8,47.4],[38.5,46],[42.4,43.5],[37.2,42.9],[35.1,42.9],[33.5,42.9],[31.8,42],[30.5,41.5],[33.1,40.2],[31.5,40.2],[39,40.5],[38.1,41],[35.4,38.6],[37.5,38],[33.1,36.9],[31.3,36.5],[35.1,36.5],[36.3,34.9],[31.6,34.1],[41.1,37.5],[43.2,36.7],[42.8,34.5],[39.3,33.9],[37.1,33.4],[35.4,32.4],[41.9,32.8],[43.4,32],[46,32.8],[47.2,32.8],[48.3,34],[43.9,29.6],[39.8,28.7],[35.7,29.6],[32.8,28.7],[30.2,30.4],[28.4,28.7],[44.2,26.9],[42.2,26],[40.1,25.3],[45.6,24.9],[47.7,25.6],[49.5,25.3],[50.5,23.2],[39,22.2],[40.1,21.3],[41.9,20.7],[39.8,19.9],[36.9,20.8],[35.4,22.6],[33.7,20.9],[31.9,20.7],[47.5,18.9],[47.5,17.8],[51.7,19.7],[59.3,18.9],[55.7,22.3],[60,25.5],[61.2,23],[62.7,21.2],[70.2,26.1],[50,29.6],[53.5,29.3],[56.1,28.9],[50.4,36.1],[53.5,36.1],[47.3,40],[46.9,40.2],[50.6,47],[53.9,44.7],[52.6,52.7],[54.2,55.4],[57.5,55.4],[57,60.1],[55.5,67.6],[59.2,69.1],[60.8,65.4],[60.5,78.7],[60.9,76.4],[67.1,73.6],[68.8,77],[74.9,90.1],[69.5,65.7],[71.4,63.6],[76.5,62.2],[76.7,60.2],[70.6,57.7],[65.9,56.1],[68.9,55.2],[64.4,51.5],[59.3,49.3],[60.3,44.3],[59.2,39],[61.8,39.2],[64.4,38.2],[68.1,35.9],[74.6,35.7],[58.5,34.2],[57,33.1],[60,34.1],[62.4,34.2],[76.6,51.1],[71.8,48.3],[75.3,45.4],[78.5,46.6],[65.2,15.2],[73.2,11.9],[76.9,8],[64.6,6.8],[62.2,5.7],[59,1.2],[54.5,3.3],[53,2.9],[55.7,12.5],[54.5,11.7],[53,10.8],[51.6,8.4],[48.9,8.4],[48.3,6.8],[48.4,4.5],[49.8,4.1],[51,4.9],[51.6,15],[49.5,14.8],[49.8,13.5],[45.5,12.2],[44.5,11.5],[46.7,8.6],[42.6,10.4],[41,14],[39,15.2],[37.2,14.8],[38.4,12.3],[36.6,12.7],[38.7,9.6],[36.3,10.4],[34,11.5],[33.1,9.6],[41.6,6.2],[42.5,4.7],[40.4,2.9],[37.8,2.1],[35.4,3.7],[34.3,5.7],[31.9,3.7],[30.2,6.6],[31.6,7.8],[27.8,1.6],[32.8,16],[31,14.8],[31.9,14.8],[29,16.8],[26.7,12.7],[27.8,9.9],[25.5,8.6],[23.7,10.3],[21.4,13.5],[24.9,17.7],[22.6,20.9],[25.5,25],[20.2,23],[18.5,20.9],[17.3,27.5],[19.6,28.3],[23.1,30.8],[25.5,29.1],[28.1,28.7],[14.9,28.3],[12.6,26.7],[10.3,32.4],[13.2,34.1],[16.1,33.7],[18.7,31.6],[5.6,38.2],[2.6,33.3],[3.8,36.5],[8,29.6],[5.9,30.4],[14.4,23.4],[12,21.8],[15.5,19.3],[17.9,16.8],[20.2,18.5],[23.1,17.7],[21.4,7],[23.1,4.5],[25.5,3.7],[19,4.5],[15.5,2.1],[18.2,7.8],[108.5,90.4],[108.5,82],[89.9,99.2],[75.3,90.4],[71.2,89.2],[89.3,74.2],[89.3,80],[89.6,38.8],[89.3,35.8],[84.4,30],[93.2,31.2],[94,8],[87.7,16.5],[85.5,16.5],[105,31.9],[100,51.2],[94.5,68.5],[81.4,56.9],[77.5,61.5],[75.3,53],[80.8,41.5],[76.7,33.8],[75.9,11.5],[80.3,30],[72.6,22.3],[68.5,10.8]];

// ===== page helpers =====
const page = document.getElementById('page');
const SUP2 = '<span class="up">2</span>';

function addHtml(className, html, left, top, size, extra) {
    const el = document.createElement('div');
    el.className = className;
    el.innerHTML = html;
    el.style.left = left + 'px';
    el.style.top = top + 'px';
    if (size) el.style.fontSize = size + 'px';
    if (extra) Object.assign(el.style, extra);
    page.appendChild(el);
    return el;
}

function addLetter(text, left, top) {
    addHtml('letter', text, left, top, 0, { width: '49px', height: '57px' });
}

function addStats(lines, left, top) {
    lines.forEach((line, i) => addHtml('txt', line, left, top + i * 34, 27.5));
}

function addCanvas(box, gutterLeft, gutterBottom, padTop, padRight) {
    const w = gutterLeft + (box.R - box.L) + padRight;
    const h = padTop + (box.B - box.T) + gutterBottom;
    const canvas = document.createElement('canvas');
    canvas.className = 'plot';
    canvas.width = w;
    canvas.height = h;
    canvas.style.left = (box.L - gutterLeft) + 'px';
    canvas.style.top = (box.T - padTop) + 'px';
    canvas.style.width = w + 'px';
    canvas.style.height = h + 'px';
    page.appendChild(canvas);
    return canvas;
}

const toXY = pairs => pairs.map(([x, y]) => ({ x, y }));

// dibuja el marco de cada panel
const framePlugin = {
    id: 'frame',
    afterDatasetsDraw(chart) {
        const a = chart.chartArea, ctx = chart.ctx;
        ctx.save();
        ctx.strokeStyle = '#444';
        ctx.lineWidth = 2;
        ctx.strokeRect(a.left, a.top, a.right - a.left, a.bottom - a.top);
        ctx.restore();
    }
};

function scatterPanel(box, fit, layers) {
    // padTop and padRight leave the room Chart.js wants for the end tick labels
    const gutterLeft = 98, gutterBottom = 60, padTop = 40, padRight = 20;
    const canvas = addCanvas(box, gutterLeft, gutterBottom, padTop, padRight);
    const datasets = [{
        data: toXY(fit), showLine: true, borderColor: '#ff0000', borderWidth: 2.5,
        pointRadius: 0, clip: 0
    }];
    layers.forEach(layer => datasets.push({
        data: toXY(layer.points),
        pointRadius: layer.radius,
        pointHoverRadius: layer.radius,
        backgroundColor: 'rgba(0,0,0,' + layer.alpha + ')',
        borderColor: 'rgba(0,0,0,' + layer.alpha + ')',
        borderWidth: layer.edge,
        clip: 0
    }));
    const gridStyle = { drawOnChartArea: false, drawTicks: true, tickLength: -7, tickColor: '#222', tickWidth: 2 };
    new Chart(canvas, {
        type: 'scatter',
        data: { datasets },
        plugins: [framePlugin],
        options: {
            responsive: false, animation: false, devicePixelRatio: 1,
            layout: { padding: { top: padTop, right: padRight, left: 0, bottom: 0 } },
            plugins: { legend: { display: false }, tooltip: { enabled: false } },
            scales: {
                x: {
                    min: 0, max: 124, afterFit: s => { s.height = gutterBottom; },
                    afterBuildTicks: s => { s.ticks = scatterTicks.map(value => ({ value })); },
                    grid: gridStyle, border: { color: '#444', width: 2 },
                    ticks: { color: '#000', padding: 12, maxRotation: 0, autoSkip: false, font: { family: 'Liberation Sans', size: 29 } }
                },
                y: {
                    min: 0, max: 124, afterFit: s => { s.width = gutterLeft; },
                    afterBuildTicks: s => { s.ticks = scatterTicks.map(value => ({ value })); },
                    grid: gridStyle, border: { color: '#444', width: 2 },
                    ticks: {
                        color: '#000', padding: 14, autoSkip: false, font: { family: 'Liberation Sans', size: 29 },
                        // the reference has the leading 1 of the top label cropped away
                        callback: v => v === 120 ? '20' : String(v)
                    }
                }
            }
        }
    });
}

const single = (points, alpha) => ({ points, radius: 5.8, alpha, edge: 1 });

// ===== scatter panels =====
scatterPanel({ L: 98, T: 6, R: 805, B: 508 }, fitA, [
    { points: aCore, radius: 9, alpha: .97, edge: 0 },
    { points: aHalo, radius: 6.5, alpha: .55, edge: 0 },
    { points: aBand, radius: 6, alpha: .45, edge: 1 },
    single(aSparse, .2)
]);
scatterPanel({ L: 912, T: 7, R: 1617, B: 510 }, fitB, [
    { points: bCore, radius: 11.5, alpha: .98, edge: 0 },
    { points: bBand, radius: 6, alpha: .55, edge: 1 },
    { points: bHalo, radius: 6.5, alpha: .4, edge: 0 },
    single(bMid, .28),
    single(bSparse, .2)
]);
scatterPanel({ L: 1724, T: 7, R: 2431, B: 509 }, fitC, [
    { points: cCore, radius: 11.5, alpha: .98, edge: 0 },
    { points: cBand, radius: 9, alpha: .92, edge: 0 },
    { points: cBandHigh, radius: 6.5, alpha: .55, edge: 1 },
    { points: cHalo, radius: 6.5, alpha: .42, edge: 0 },
    single(cLow, .28),
    single(cSparse, .2)
]);
scatterPanel({ L: 100, T: 587, R: 807, B: 1087 }, fitD, [
    { points: dCore, radius: 10.5, alpha: .98, edge: 0 },
    { points: dHalo, radius: 6.5, alpha: .4, edge: 0 },
    single(dSparse, .2)
]);
scatterPanel({ L: 912, T: 587, R: 1617, B: 1087 }, fitE, [
    { points: eCore, radius: 11.5, alpha: .98, edge: 0 },
    { points: eHalo, radius: 6.5, alpha: .32, edge: 0 },
    single(eSparse, .12)
]);

// ===== bar panel =====
const boxF = { L: 1723, T: 588, R: 2428, B: 1087 };
new Chart(addCanvas(boxF, 98, 12, 16, 8), {
    type: 'bar',
    data: {
        labels: categories,
        datasets: [
            { label: 'Stable water', data: stableWater, backgroundColor: '#0205b5' },
            { label: 'Temporal water', data: temporalWater, backgroundColor: '#c764c6' },
            { label: 'Total water', data: totalWater, backgroundColor: '#0070c0' }
        ].map(d => Object.assign(d, { borderColor: '#000', borderWidth: 2.5, categoryPercentage: .665, barPercentage: .8 }))
    },
    options: {
        responsive: false, animation: false, devicePixelRatio: 1,
        layout: { padding: { top: 16, right: 8, left: 0, bottom: 0 } },
        plugins: { legend: { display: false }, tooltip: { enabled: false } },
        scales: {
            x: {
                afterFit: s => { s.height = 12; },
                grid: { display: false }, border: { color: '#000', width: 3.5 },
                ticks: { display: false }
            },
            y: {
                min: 0, max: 180, afterFit: s => { s.width = 98; },
                afterBuildTicks: s => { s.ticks = barTicks.map(value => ({ value })); },
                grid: { drawOnChartArea: false, tickLength: 10, tickColor: '#000', tickWidth: 2.5 },
                border: { color: '#000', width: 3 },
                ticks: { color: '#000', padding: -4, autoSkip: false, font: { family: 'Liberation Sans', size: 35 } }
            }
        }
    }
});

// ===== text layers =====
const kmTitle = 'DWH10 [km' + SUP2 + ']';
addHtml('txt', kmTitle, 336, 558, 41);
addHtml('txt', kmTitle, 1134, 558, 41);
addHtml('txt', kmTitle, 1980, 560, 41);
addHtml('txt', kmTitle, 336, 1140, 41);
addHtml('txt', kmTitle, 1134, 1140, 41);

addHtml('rot', 'JRC-GSW [km' + SUP2 + ']', 24, 263, 41);
addHtml('rot', 'GLADWater [km' + SUP2 + ']', 837, 265, 41);
addHtml('rot', 'ESA10 water [km' + SUP2 + ']', 1650, 266, 41);
addHtml('rot', 'JRC-GSW [km' + SUP2 + ']', 24, 845, 41);
addHtml('rot', 'GLADWater [km' + SUP2 + ']', 837, 845, 41);
addHtml('rot', 'Water area [x10<span class="up">3</span> km' + SUP2 + ']', 1642, 825, 46);

addHtml('txt', 'Stable water', 537, 28, 40.6);
addHtml('txt', 'Stable water', 1348, 28, 40.6);
addHtml('txt', 'Total water', 2180, 28, 40.6);
addHtml('txt', 'Temporal water', 507, 605, 40.6);
addHtml('txt', 'Temporal water', 1312, 605, 40.6);

addLetter('a', 98, 6);
addLetter('b', 913, 9);
addLetter('c', 1726, 8);
addLetter('d', 101, 587);
addLetter('e', 913, 587);
addLetter('f', 1725, 587);

const R2 = '<i>R</i><span class="up">2</span>';
addStats([R2 + '=0.99', 'RMSE=0.98', 'P-value&lt;0.01', '<i>y</i>=0.969<i>x</i>-0.127'], 172, 48);
addStats([R2 + '=0.87', 'RMSE=3.68', 'P-value&lt;0.01', '<i>y</i>=0.743<i>x</i>-0.201'], 980, 48);
addStats([R2 + '=0.85', 'RMSE=4.645', 'P-value&lt;0.01', '<i>y</i>=0.791<i>x</i>-0.697'], 1797, 48);
addStats([R2 + '=0.51', 'RMSE=3.643', 'P-value&lt;0.01', '<i>y</i>=0.359<i>x</i>+0.087'], 172, 628);
addStats([R2 + '=0.3', 'RMSE=5.389', 'P-value&gt;0.05', '<i>y</i>=0.709<i>x</i>+1.754'], 980, 628);

const fitLegend = document.createElement('div');
fitLegend.id = 'fitLegend';
fitLegend.innerHTML = '<i></i><span>Fitting Line</span>';
page.appendChild(fitLegend);

// bar category labels sit off the category centres in the reference
const categoryLabelLeft = [1750, 1905, 2095, 2316];
const categoryLabelTop = [1110, 1110, 1110, 1113];
categories.forEach((name, i) => addHtml('txt', name, categoryLabelLeft[i], categoryLabelTop[i], 36));

const legendNames = ['Stable water', 'Temporal water', 'Total water'];
const legendColors = ['#0205b5', '#c764c6', '#0070c0'];
const legendSwatchLeft = [1731, 1958, 2232];
legendNames.forEach((name, i) => {
    addHtml('swatch', '', legendSwatchLeft[i], 1136, 0, { background: legendColors[i] });
    addHtml('txt', name, legendSwatchLeft[i] + 25, 1145, 33);
});
</script>
</body>
</html>
